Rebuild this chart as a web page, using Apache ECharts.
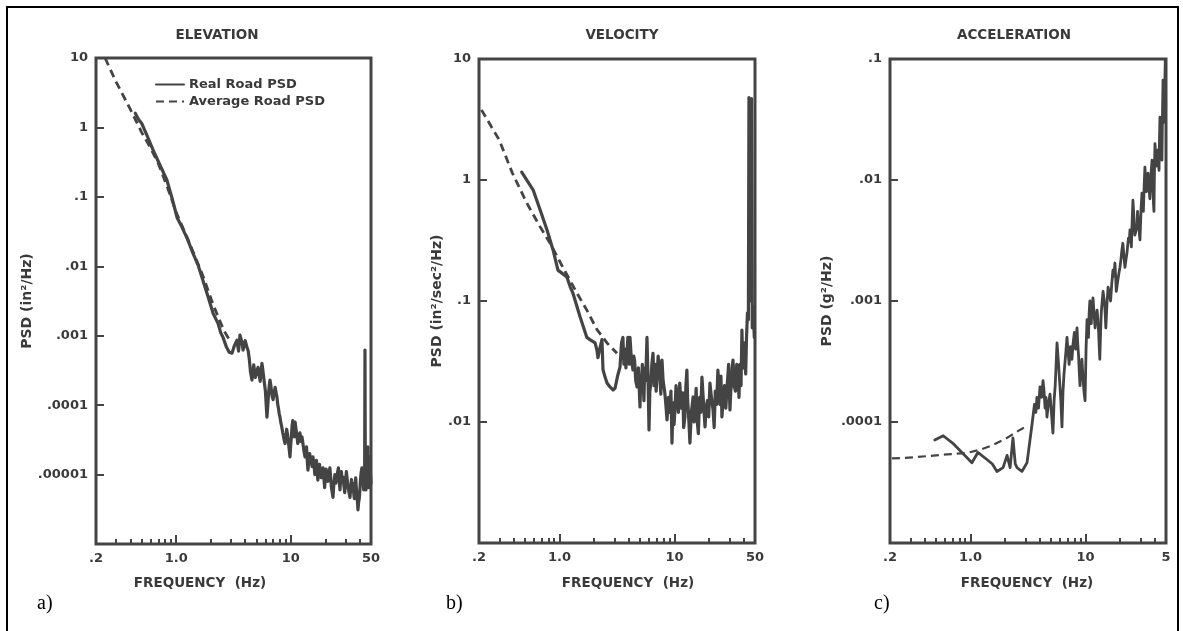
<!DOCTYPE html>
<html><head><meta charset="utf-8">
<script src="https://cdn.jsdelivr.net/npm/echarts@6/dist/echarts.min.js"></script>
<style>html,body{margin:0;padding:0;background:#fff}#c{width:1183px;height:631px}</style>
</head><body><div id="c"></div>
<script>
// ---------- DATA ----------
// Panel a) Elevation
const elevRealFreq = [0.44,0.47,0.50,0.56,0.63,0.72,0.83,0.93,1.02,1.12,1.25,1.40,1.55,1.71,1.9,2.10,2.32,2.45,2.56,2.75,2.9,3.07,3.2,3.39,3.5,3.6,3.75,3.83,4.0,4.14,4.25,4.35,4.45,4.58,4.66,4.75,4.83,4.9,5.03,5.17,5.28,5.4,5.5,5.6,5.7,5.8,5.9,6.0,6.1,6.19,6.3,6.4,6.5,6.58,6.7,6.8,6.9,7.0,7.15,7.3,7.45,7.57,7.7,7.8,7.92,8.04,8.2,8.3,8.4,8.5,8.7,8.89,9.05,9.2,9.35,9.5,9.65,9.83,9.95,10.1,10.25,10.4,10.55,10.7,10.8,10.9,11.2,11.5,11.75,12.0,12.25,12.5,12.75,13.0,13.3,13.5,13.7,13.9,14.1,14.35,14.6,14.85,15.1,15.35,15.6,15.9,16.2,16.45,16.7,16.95,17.2,17.5,17.8,18.1,18.4,18.75,19.1,19.4,19.7,20.0,20.3,20.65,21.0,21.45,21.9,22.25,22.6,22.95,23.3,23.75,24.2,24.7,25.2,25.6,26.0,26.4,26.8,27.2,27.6,28.0,28.5,29.0,29.5,30.0,30.5,31.0,31.6,32.2,32.8,33.3,33.8,34.3,34.8,35.3,35.8,36.3,36.8,37.2,37.7,38.1,38.5,39.0,39.5,40.0,40.5,41.1,41.7,42.2,42.8,43.2,43.7,44.0,44.3,44.6,44.9,45.2,45.6,45.9,46.1,46.5,47.0,47.3,47.6,48.0,48.3,48.6,49.0,49.5,50];
const elevRealPsd = [1.6,1.3,1.15,0.75,0.47,0.29,0.175,0.09,0.05,0.037,0.025,0.0155,0.0105,0.0063,0.0036,0.0021,0.0015,0.0011,0.00095,0.00068,0.00058,0.00056,0.0007,0.00086,0.0006,0.00102,0.0008,0.00062,0.00085,0.00069,0.0006,0.00045,0.0003,0.00023,0.0003,0.00038,0.0003,0.00025,0.0003,0.00035,0.00028,0.00022,0.0003,0.0004,0.00032,0.00025,0.0002,0.00016,0.0001,0.000067,0.0001,0.00015,0.0002,0.00023,0.00019,0.00015,0.00013,0.00012,0.00015,0.00018,0.00015,0.00013,0.0001,0.00009,0.000075,0.000067,0.000055,0.00005,0.000045,0.00004,0.000033,0.000028,0.000035,0.000045,0.000038,0.00003,0.000024,0.000018,0.000025,0.000035,0.00005,0.00006,0.000045,0.000035,0.000045,0.000057,0.00004,0.000028,0.000035,0.00004,0.00003,0.000035,0.000028,0.000022,0.000018,0.000022,0.000025,0.000016,0.0000116,0.000016,0.00002,0.000017,0.000015,0.000013,0.000018,0.000014,0.00001,0.000013,0.000016,0.000012,0.0000083,0.000011,0.000014,0.000011,0.000009,0.000011,0.0000125,0.000009,0.0000065,0.000009,0.000012,0.00001,0.000008,0.00001,0.0000125,0.000009,0.0000065,0.0000055,0.0000047,0.0000075,0.00001,0.0000075,0.000009,0.000011,0.0000125,0.0000085,0.000006,0.0000085,0.000011,0.000008,0.0000092,0.000007,0.0000055,0.000008,0.000011,0.0000085,0.0000065,0.0000055,0.0000047,0.0000065,0.0000085,0.000006,0.0000075,0.0000055,0.0000045,0.0000065,0.000009,0.0000065,0.000005,0.000004,0.0000031,0.000004,0.0000045,0.000006,0.0000085,0.000011,0.0000125,0.0000095,0.0000075,0.000006,0.000008,0.00001,0.00062,0.00001,0.0000075,0.000006,0.000009,0.000008,0.0000075,0.000012,0.000025,0.000012,0.0000085,0.0000065,0.0000065,0.00001,0.000018,0.00001,0.0000075];
const elevAvgFreq = [0.24,0.3,0.4,0.5,0.6,0.7,0.85,1.0,1.3,1.7,2.1,2.6,3.0];
const elevAvgPsd  = [10,4.5,1.8,0.85,0.5,0.3,0.13,0.06,0.022,0.0075,0.0028,0.0012,0.0008];

// Panel b) Velocity
const velRealFreq = [0.47,0.59,0.68,0.78,0.88,0.97,1.05,1.16,1.24,1.31,1.51,1.73,1.84,2.04,2.12,2.16,2.25,2.34,2.39,2.49,2.59,2.75,2.92,3.04,3.2,3.36,3.46,3.56,3.63,3.7,3.78,3.86,3.93,4.0,4.05,4.10,4.2,4.35,4.42,4.5,4.6,4.72,4.85,5.01,5.08,5.15,5.25,5.32,5.42,5.5,5.62,5.76,5.84,5.9,6.0,6.1,6.2,6.35,6.5,6.65,6.8,6.92,7.04,7.2,7.4,7.6,7.78,7.95,8.2,8.4,8.6,8.85,9.1,9.3,9.5,9.7,9.9,10.1,10.3,10.5,10.8,11.1,11.45,11.8,12.0,12.3,12.55,12.8,13.0,13.2,13.4,13.6,14.0,14.5,14.8,15.1,15.4,15.7,16.1,16.5,16.9,17.3,17.8,18.4,18.8,19.3,19.8,20.3,20.9,21.6,22.1,22.6,23.2,23.8,24.3,24.8,25.3,25.8,26.5,27.2,27.9,28.6,29.5,30.3,30.8,31.2,31.7,32.2,33.0,33.8,34.7,35.6,36.3,37.0,37.8,38.5,39.0,39.6,40.3,40.9,41.5,42.2,43.0,43.8,44.3,44.9,45.5,46.1,46.7,47.3,48.2,49.3];
const velRealPsd = [1.16,0.83,0.565,0.386,0.264,0.18,0.17,0.158,0.131,0.116,0.074,0.05,0.048,0.045,0.039,0.034,0.041,0.048,0.027,0.0235,0.021,0.0195,0.0184,0.019,0.024,0.0285,0.045,0.05,0.03,0.04,0.028,0.037,0.05,0.045,0.03,0.05,0.035,0.0269,0.035,0.032,0.022,0.0195,0.028,0.0133,0.022,0.02,0.03,0.0235,0.015,0.028,0.022,0.05,0.03,0.02,0.0086,0.018,0.02,0.03,0.037,0.02,0.03,0.018,0.0235,0.035,0.028,0.017,0.0325,0.022,0.018,0.014,0.0104,0.016,0.012,0.018,0.0067,0.0144,0.0095,0.013,0.02,0.0161,0.012,0.021,0.013,0.0174,0.009,0.011,0.02,0.0269,0.015,0.012,0.009,0.0067,0.012,0.0161,0.01,0.013,0.019,0.0104,0.008,0.016,0.012,0.0235,0.015,0.0091,0.013,0.015,0.011,0.021,0.016,0.0126,0.009,0.018,0.014,0.0269,0.02,0.014,0.024,0.011,0.016,0.02,0.013,0.0195,0.03,0.0126,0.018,0.02,0.028,0.0325,0.02,0.018,0.03,0.0235,0.016,0.03,0.02,0.0575,0.035,0.028,0.045,0.0325,0.025,0.05,0.08,0.07,4.8,0.1,4.6,0.12,4.7,0.06,0.09,0.05];
const velAvgFreq = [0.21,0.30,0.39,0.52,0.68,0.83,1.07,1.42,1.73,2.12,2.59,3.16];
const velAvgPsd  = [3.8,2.14,1.14,0.645,0.41,0.30,0.19,0.116,0.084,0.058,0.045,0.037];

// Panel c) Acceleration
const accRealFreq = [0.49,0.58,0.70,0.86,1.03,1.16,1.39,1.55,1.70,1.92,2.08,2.21,2.34,2.45,2.54,2.80,3.10,3.29,3.4,3.49,3.6,3.7,3.78,3.9,4.02,4.15,4.27,4.36,4.45,4.53,4.62,4.75,4.91,5.05,5.21,5.33,5.45,5.55,5.65,5.8,5.95,6.1,6.24,6.37,6.5,6.7,6.9,7.05,7.2,7.4,7.62,7.8,8.0,8.2,8.43,8.55,8.7,8.82,8.95,9.1,9.3,9.45,9.6,9.75,9.9,10.1,10.3,10.45,10.6,10.75,10.9,11.05,11.2,11.4,11.6,11.85,12.1,12.35,12.6,12.8,13.0,13.15,13.3,13.5,13.7,13.95,14.2,14.45,14.7,14.85,15.0,15.35,15.7,16.1,16.5,16.9,17.3,17.65,18.0,18.25,18.5,18.8,19.1,19.5,19.9,20.3,20.7,21.1,21.5,22.0,22.45,22.9,23.25,23.6,24.0,24.3,24.65,25.0,25.4,25.8,26.3,26.8,27.4,28.0,28.3,28.6,29.1,29.7,30.3,30.9,31.3,31.8,32.3,32.8,33.3,33.8,34.3,34.9,35.5,36.2,37.0,37.8,38.1,38.5,38.9,39.3,39.7,40.1,40.7,41.3,42.0,42.6,43.0,43.5,43.9,44.3,44.7,45.2,45.7,46.1,46.6,47.1,47.5,48.0,48.6,49.3,49.7];
const accRealPsd = [7.1e-5,7.7e-5,6.7e-5,5.5e-5,4.6e-5,5.6e-5,4.9e-5,4.5e-5,3.9e-5,4.2e-5,5.3e-5,4.2e-5,7.4e-5,4.5e-5,4.2e-5,3.9e-5,4.6e-5,7.1e-5,9e-5,1.1e-4,1.4e-4,1.2e-4,1.6e-4,1.3e-4,1.95e-4,1.6e-4,2.2e-4,1.8e-4,1.3e-4,1.6e-4,1.1e-4,1.4e-4,1.7e-4,1.2e-4,8.1e-5,1.5e-4,2.0e-4,3.0e-4,4.5e-4,3.2e-4,2.2e-4,1.5e-4,9.1e-5,1.8e-4,2.5e-4,3.5e-4,5.0e-4,3.8e-4,3.0e-4,4.2e-4,3.3e-4,4.5e-4,5.5e-4,4.0e-4,6.0e-4,4.5e-4,3.5e-4,2.6e-4,2.0e-4,2.8e-4,3.3e-4,2.5e-4,2.0e-4,1.7e-4,1.5e-4,4.0e-4,7.0e-4,6.0e-4,5.0e-4,8.0e-4,1.0e-3,8.0e-4,6.5e-4,9.0e-4,1.06e-3,8.0e-4,6.0e-4,7.5e-4,8.4e-4,7.0e-4,5.5e-4,4.2e-4,3.3e-4,5.5e-4,8.0e-4,1.0e-3,1.2e-3,1.05e-3,9.0e-4,7.5e-4,6.0e-4,9.5e-4,1.3e-3,1.15e-3,1.0e-3,1.4e-3,1.8e-3,1.6e-3,2.06e-3,1.6e-3,1.2e-3,1.35e-3,1.5e-3,1.7e-3,1.9e-3,2.2e-3,2.64e-3,3.0e-3,2.4e-3,1.9e-3,2.2e-3,2.5e-3,2.9e-3,3.3e-3,3.1e-3,3.86e-3,3.3e-3,2.8e-3,4.5e-3,6.8e-3,5.0e-3,3.5e-3,3.8e-3,4.1e-3,5.5e-3,4.7e-3,4.0e-3,3.2e-3,5.5e-3,7.8e-3,6.5e-3,5.5e-3,9.0e-3,1.28e-2,1.0e-2,8.0e-3,9.5e-3,1.14e-2,9.0e-3,7.0e-3,1.1e-2,1.46e-2,1.1e-2,8.3e-3,6.5e-3,5.5e-3,1.2e-2,2.0e-2,1.6e-2,1.3e-2,1.5e-2,1.77e-2,1.5e-2,1.2e-2,2.2e-2,3.3e-2,2.8e-2,2.2e-2,1.8e-2,1.46e-2,3.5e-2,0.067,0.045,0.03,0.05,0.098,0.04];
const accAvgFreq = [0.208,0.317,0.625,0.933,1.21,1.57,2.08,2.69,3.16];
const accAvgPsd  = [5.0e-5,5.1e-5,5.4e-5,5.55e-5,5.9e-5,6.45e-5,7.4e-5,8.6e-5,9.4e-5];

// Axis ticks / labels
const xMinorTicks = [0.3,0.4,0.5,0.6,0.7,0.8,0.9,2,3,4,5,6,7,8,9,20,30,40];
const xMajorTicks = [1,10];
const xLabelVals = [0.2,1,10,50];
const xLabelsAB = ['.2','1.0','10','50'];
const xLabelsC = ['.2','1.0','10','5'];
const yLabelValsA = [10,1,0.1,0.01,0.001,0.0001,0.00001];
const yLabelsA = ['10','1','.1','.01','.001','.0001','.00001'];
const yLabelValsB = [10,1,0.1,0.01];
const yLabelsB = ['10','1','.1','.01'];
const yLabelValsC = [0.1,0.01,0.001,0.0001];
const yLabelsC = ['.1','.01','.001','.0001'];

const panelTitles = ['ELEVATION','VELOCITY','ACCELERATION'];
const yNames = ['PSD (in\u00b2/Hz)','PSD (in\u00b2/sec\u00b2/Hz)','PSD (g\u00b2/Hz)'];
const xName = 'FREQUENCY  (Hz)';
const panelTags = ['a)','b)','c)'];
const seriesNames = ['Real Road PSD','Average Road PSD'];

// ---------- CHART ----------
const INK = '#444';
const TXT = '#3a3a3a';
const FONT = '"DejaVu Sans", sans-serif';
const zip = (a,b) => a.map((v,i)=>[v,b[i]]);
const fmt = (vals, labels) => v => {
  for (let i=0;i<vals.length;i++) if (Math.abs(Math.log10(v)-Math.log10(vals[i]))<1e-6) return labels[i];
  return '';
};
const labelStyle = {fontFamily:FONT, fontWeight:'bold', fontSize:13, color:TXT};

const grids = [
  {left:96, top:58, width:275, height:486},
  {left:479, top:59, width:276, height:484},
  {left:890, top:59, width:276, height:484}
].map(g => Object.assign(g, {show:true, borderColor:INK, borderWidth:3, backgroundColor:'transparent'}));

const xAxis = [];
[xLabelsAB, xLabelsAB, xLabelsC].forEach((labs, gi) => {
  xAxis.push({type:'log', logBase:10, gridIndex:gi, position:'bottom', min:0.2, max:50,
    axisLine:{show:false}, splitLine:{show:false},
    axisTick:{show:true, inside:true, length:5, customValues:xMinorTicks, lineStyle:{color:INK, width:2}},
    axisLabel:{show:false}});
  xAxis.push({type:'log', logBase:10, gridIndex:gi, position:'bottom', min:0.2, max:50,
    axisLine:{show:false}, splitLine:{show:false},
    axisTick:{show:true, inside:true, length:9, customValues:xMajorTicks, lineStyle:{color:INK, width:2}},
    axisLabel:Object.assign({show:true, margin:8, customValues:xLabelVals, formatter:fmt(xLabelVals, labs)}, labelStyle)});
});

const yCfg = [
  {min:1e-6, max:10, vals:yLabelValsA, labs:yLabelsA, gap:56},
  {min:1e-3, max:10, vals:yLabelValsB, labs:yLabelsB, gap:35},
  {min:1e-5, max:0.1, vals:yLabelValsC, labs:yLabelsC, gap:56}
];
const yAxis = yCfg.map((c, gi) => ({
  type:'log', logBase:10, gridIndex:gi, min:c.min, max:c.max,
  axisLine:{show:false}, splitLine:{show:false},
  axisTick:{show:true, inside:true, length:8, customValues:c.vals, lineStyle:{color:INK, width:2}},
  axisLabel:Object.assign({show:true, margin:8, customValues:c.vals, formatter:fmt(c.vals, c.labs)}, labelStyle),
  name:yNames[gi], nameLocation:'middle', nameRotate:90, nameGap:c.gap,
  nameTextStyle:{fontFamily:FONT, fontWeight:'bold', fontSize:14, color:TXT}
}));

const realData = [zip(elevRealFreq, elevRealPsd), zip(velRealFreq, velRealPsd), zip(accRealFreq, accRealPsd)];
const avgData = [zip(elevAvgFreq, elevAvgPsd), zip(velAvgFreq, velAvgPsd), zip(accAvgFreq, accAvgPsd)];
const series = [];
for (let gi=0; gi<3; gi++) {
  series.push({type:'line', name:seriesNames[1], xAxisIndex:gi*2, yAxisIndex:gi, data:avgData[gi],
    symbol:'none', showSymbol:false, z:2, itemStyle:{color:INK},
    lineStyle:{color:INK, width:gi===2?2.2:2.8, type:[8,5], cap:'butt'}});
  series.push({type:'line', name:seriesNames[0], xAxisIndex:gi*2, yAxisIndex:gi, data:realData[gi],
    symbol:'none', showSymbol:false, z:3, itemStyle:{color:INK},
    lineStyle:{color:INK, width:gi===2?2.8:3.2, type:'solid', join:'round', cap:'round'}});
}

const txt = (x, y, text, font, fill, align) => ({type:'text', x:x, y:y, silent:true,
  style:{text:text, font:font, fill:fill, align:align||'center', verticalAlign:'middle', textAlign:align||'center', textVerticalAlign:'middle'}});
const boldT = 'bold 13.5px "DejaVu Sans", sans-serif';
const graphic = [
  {type:'rect', shape:{x:7, y:7, width:1171, height:640}, style:{fill:'none', stroke:'#000', lineWidth:2}, silent:true},
  txt(217, 35, panelTitles[0], boldT, TXT),
  txt(622, 35, panelTitles[1], boldT, TXT),
  txt(1014, 35, panelTitles[2], boldT, TXT),
  txt(200, 583, xName, boldT, TXT),
  txt(628, 583, xName, boldT, TXT),
  txt(1027, 583, xName, boldT, TXT),
  txt(37, 604, panelTags[0], '20px "Liberation Serif", serif', '#000', 'left'),
  txt(446, 604, panelTags[1], '20px "Liberation Serif", serif', '#000', 'left'),
  txt(874, 604, panelTags[2], '20px "Liberation Serif", serif', '#000', 'left')
];

const chart = echarts.init(document.getElementById('c'), null, {renderer:'canvas'});
chart.setOption({
  animation:false,
  backgroundColor:'#fff',
  grid:grids, xAxis:xAxis, yAxis:yAxis, series:series, graphic:graphic,
  legend:{show:true, left:150, top:73, orient:'vertical', itemWidth:28, itemHeight:14, itemGap:4,
    selectedMode:false, data:seriesNames, itemStyle:{opacity:0},
    textStyle:{fontFamily:FONT, fontWeight:'bold', fontSize:13, color:TXT}}
});
</script></body></html>
